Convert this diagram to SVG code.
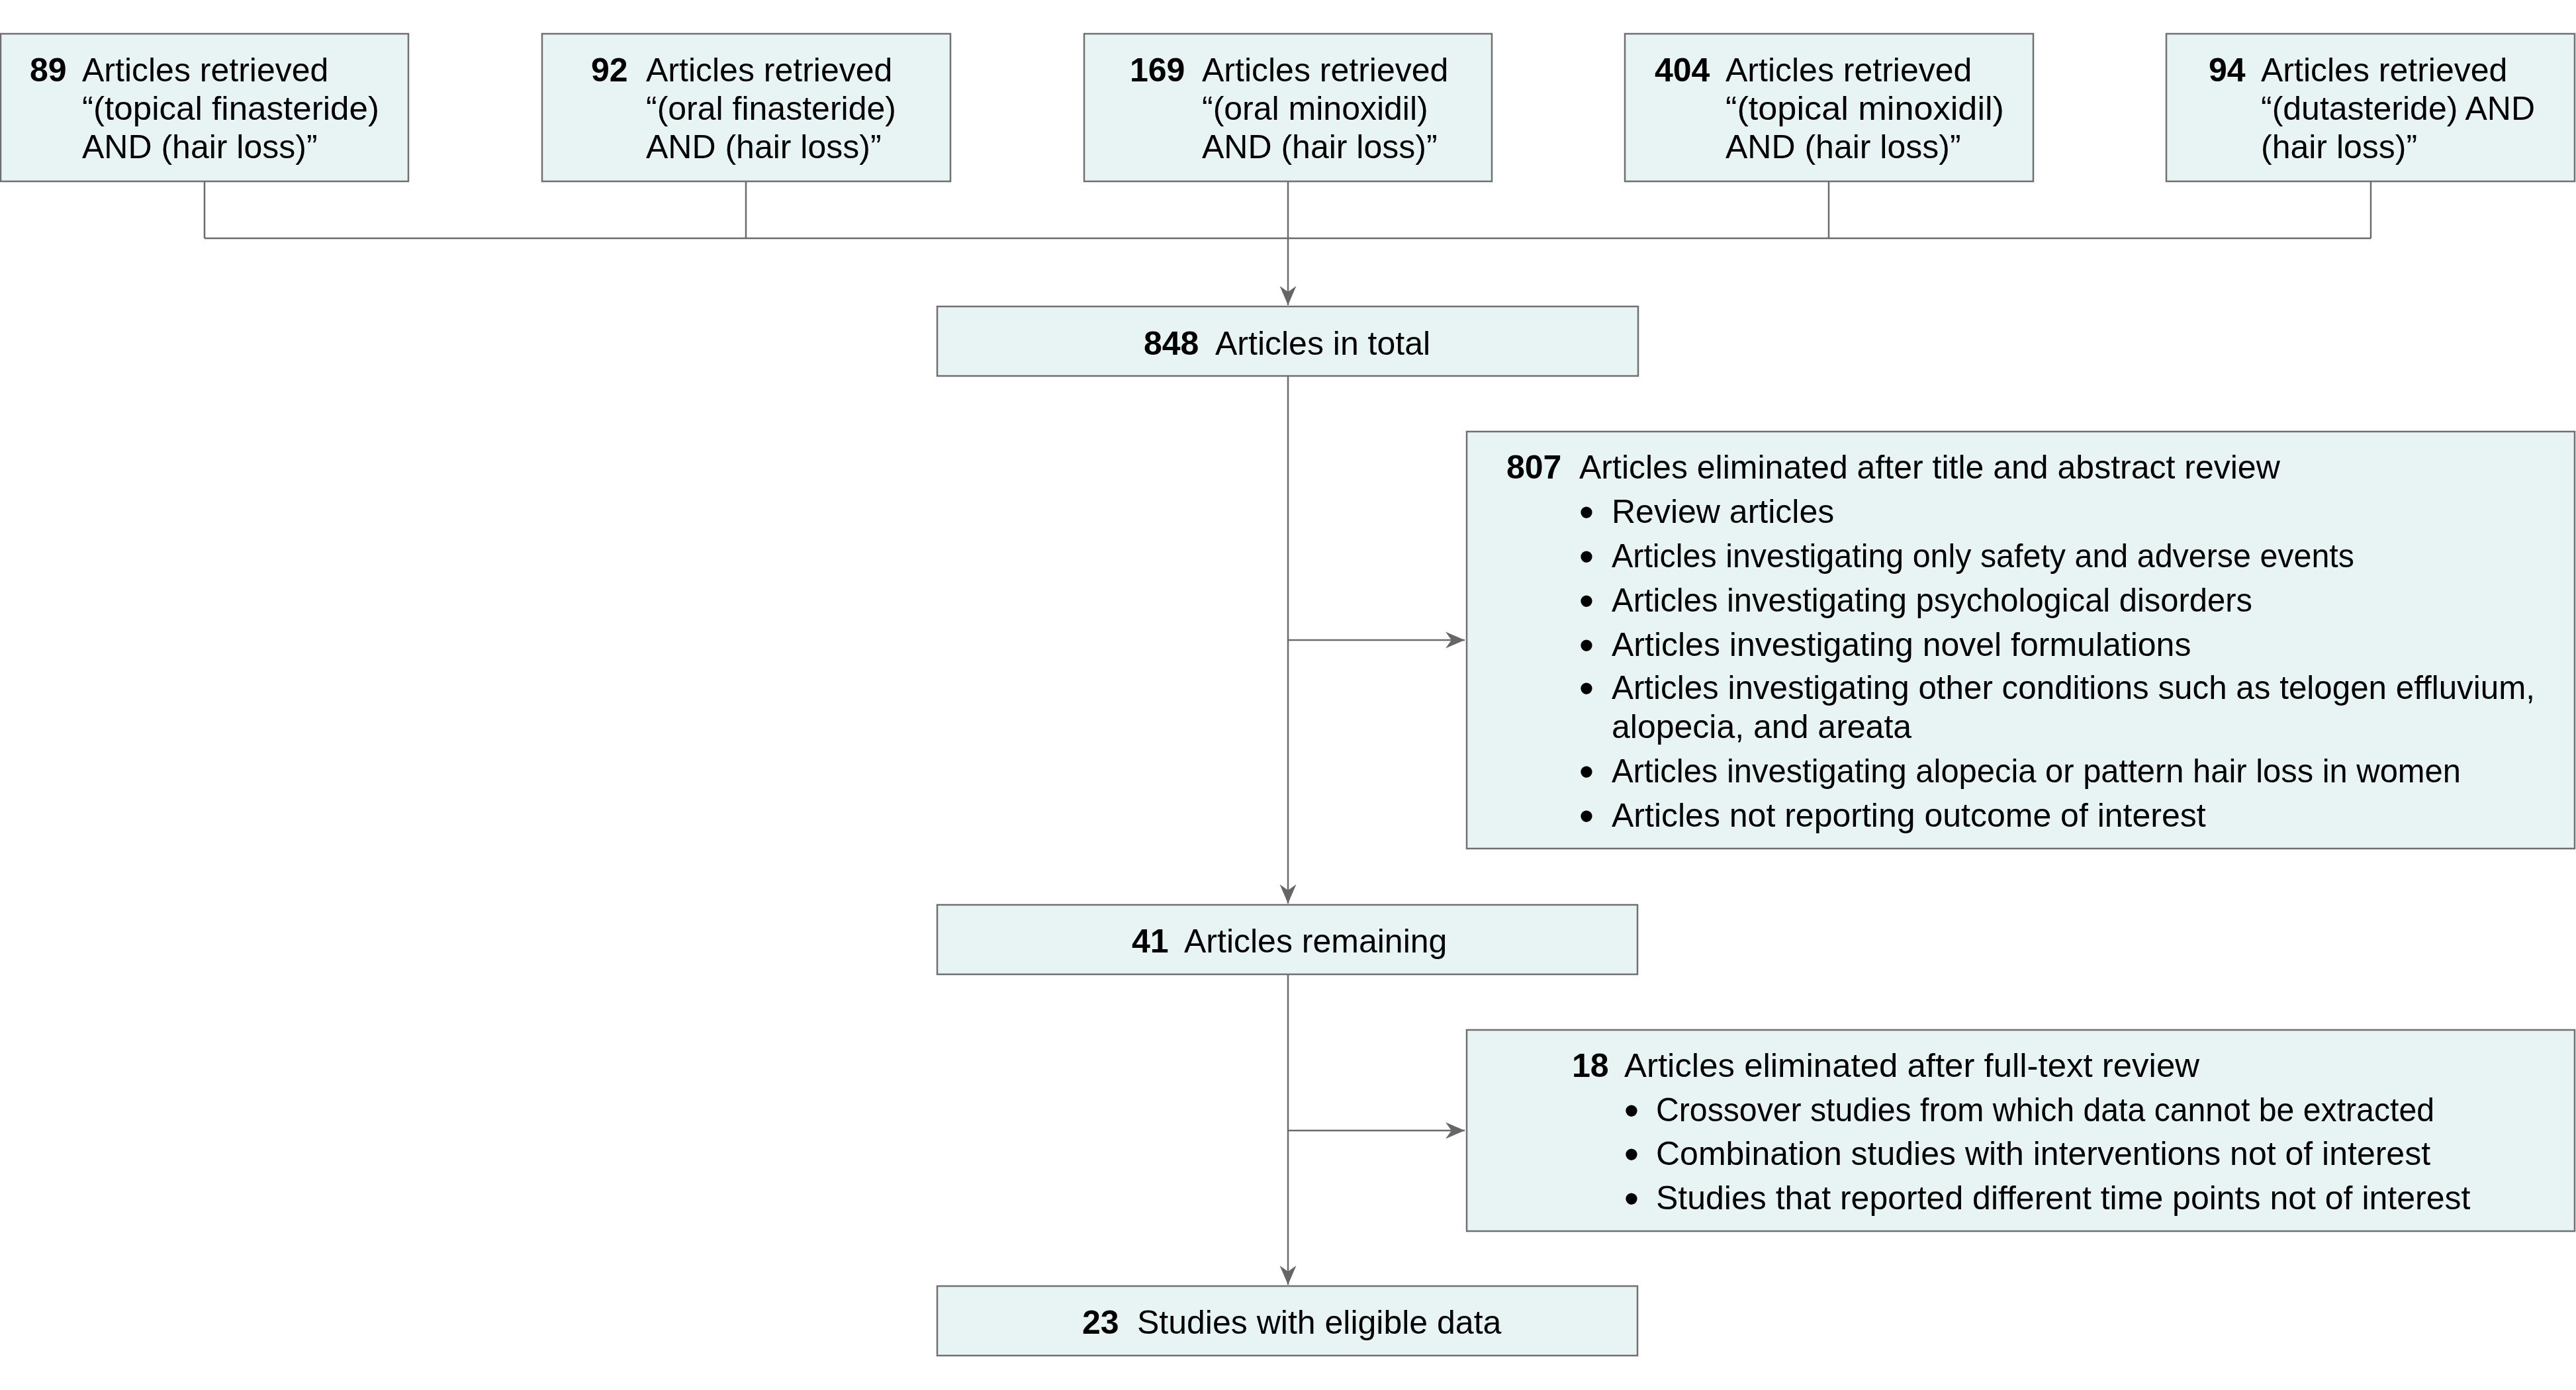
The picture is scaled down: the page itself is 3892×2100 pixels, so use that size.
<svg xmlns="http://www.w3.org/2000/svg" width="3892" height="2100" viewBox="0 0 3892 2100">
<style>
.box{fill:#e8f3f4;stroke:#707070;stroke-width:2.5}
.ln{fill:none;stroke:#6b6b6b;stroke-width:2.5}
text{font-family:"Liberation Sans",Arial,sans-serif;font-size:50px;fill:#000}
.n{font-weight:bold}
.b{font-size:64px}
</style>
<defs>
<marker id="arr" markerUnits="userSpaceOnUse" markerWidth="32" markerHeight="28" viewBox="-31 -14 32 28" refX="0" refY="0" orient="auto">
<path d="M0,0 L-29,-12.5 L-20,0 L-29,12.5 Z" fill="#666"/>
</marker>
</defs>
<rect width="3892" height="2100" fill="#fff"/>
<g id="connectors">
<path class="ln" d="M309,274 V360 M1127,274 V360 M2763,274 V360 M3582,274 V360 M309,360 H3582"/>
<path class="ln" d="M1946,274 V461" marker-end="url(#arr)"/>
<path class="ln" d="M1946,568 V1365" marker-end="url(#arr)"/>
<path class="ln" d="M1946,967 H2213" marker-end="url(#arr)"/>
<path class="ln" d="M1946,1472 V1941" marker-end="url(#arr)"/>
<path class="ln" d="M1946,1708 H2213" marker-end="url(#arr)"/>
</g>
<g id="src1">
<rect class="box" x="1" y="51" width="616" height="223"/>
<text class="n" x="45" y="123">89</text>
<text x="124" y="123">Articles retrieved</text>
<text x="124" y="181" textLength="449" lengthAdjust="spacingAndGlyphs">“(topical finasteride)</text>
<text x="124" y="239">AND (hair loss)”</text>
</g>
<g id="src2">
<rect class="box" x="819" y="51" width="617" height="223"/>
<text class="n" x="893" y="123">92</text>
<text x="976" y="123">Articles retrieved</text>
<text x="976" y="181">“(oral finasteride)</text>
<text x="976" y="239">AND (hair loss)”</text>
</g>
<g id="src3">
<rect class="box" x="1638" y="51" width="616" height="223"/>
<text class="n" x="1707" y="123">169</text>
<text x="1816" y="123">Articles retrieved</text>
<text x="1816" y="181">“(oral minoxidil)</text>
<text x="1816" y="239">AND (hair loss)”</text>
</g>
<g id="src4">
<rect class="box" x="2455" y="51" width="617" height="223"/>
<text class="n" x="2500" y="123">404</text>
<text x="2607" y="123">Articles retrieved</text>
<text x="2607" y="181" textLength="421" lengthAdjust="spacingAndGlyphs">“(topical minoxidil)</text>
<text x="2607" y="239">AND (hair loss)”</text>
</g>
<g id="src5">
<rect class="box" x="3273" y="51" width="617" height="223"/>
<text class="n" x="3337" y="123">94</text>
<text x="3416" y="123">Articles retrieved</text>
<text x="3416" y="181">“(dutasteride) AND</text>
<text x="3416" y="239">(hair loss)”</text>
</g>
<g id="total">
<rect class="box" x="1416" y="463" width="1059" height="105"/>
<text class="n" x="1728" y="536">848</text>
<text x="1836" y="536">Articles in total</text>
</g>
<g id="excluded1">
<rect class="box" x="2216" y="652" width="1674" height="630"/>
<text class="n" x="2276" y="723">807</text>
<text x="2386" y="723">Articles eliminated after title and abstract review</text>
<text class="b" x="2397" y="796" text-anchor="middle">•</text>
<text x="2435" y="790">Review articles</text>
<text class="b" x="2397" y="863" text-anchor="middle">•</text>
<text x="2435" y="857" textLength="1122" lengthAdjust="spacingAndGlyphs">Articles investigating only safety and adverse events</text>
<text class="b" x="2397" y="930" text-anchor="middle">•</text>
<text x="2435" y="924" textLength="968" lengthAdjust="spacingAndGlyphs">Articles investigating psychological disorders</text>
<text class="b" x="2397" y="997" text-anchor="middle">•</text>
<text x="2435" y="991">Articles investigating novel formulations</text>
<text class="b" x="2397" y="1062" text-anchor="middle">•</text>
<text x="2435" y="1056" textLength="1395" lengthAdjust="spacingAndGlyphs">Articles investigating other conditions such as telogen effluvium,</text>
<text x="2435" y="1115">alopecia, and areata</text>
<text class="b" x="2397" y="1188" text-anchor="middle">•</text>
<text x="2435" y="1182" textLength="1283" lengthAdjust="spacingAndGlyphs">Articles investigating alopecia or pattern hair loss in women</text>
<text class="b" x="2397" y="1255" text-anchor="middle">•</text>
<text x="2435" y="1249">Articles not reporting outcome of interest</text>
</g>
<g id="remaining">
<rect class="box" x="1416" y="1367" width="1058" height="105"/>
<text class="n" x="1710" y="1439">41</text>
<text x="1789" y="1439">Articles remaining</text>
</g>
<g id="excluded2">
<rect class="box" x="2216" y="1556" width="1674" height="304"/>
<text class="n" x="2375" y="1627">18</text>
<text x="2454" y="1627" textLength="869" lengthAdjust="spacingAndGlyphs">Articles eliminated after full-text review</text>
<text class="b" x="2465" y="1700" text-anchor="middle">•</text>
<text x="2502" y="1694" textLength="1176" lengthAdjust="spacingAndGlyphs">Crossover studies from which data cannot be extracted</text>
<text class="b" x="2465" y="1766" text-anchor="middle">•</text>
<text x="2502" y="1760">Combination studies with interventions not of interest</text>
<text class="b" x="2465" y="1833" text-anchor="middle">•</text>
<text x="2502" y="1827">Studies that reported different time points not of interest</text>
</g>
<g id="eligible">
<rect class="box" x="1416" y="1943" width="1058" height="105"/>
<text class="n" x="1635" y="2015">23</text>
<text x="1718" y="2015">Studies with eligible data</text>
</g>
</svg>
